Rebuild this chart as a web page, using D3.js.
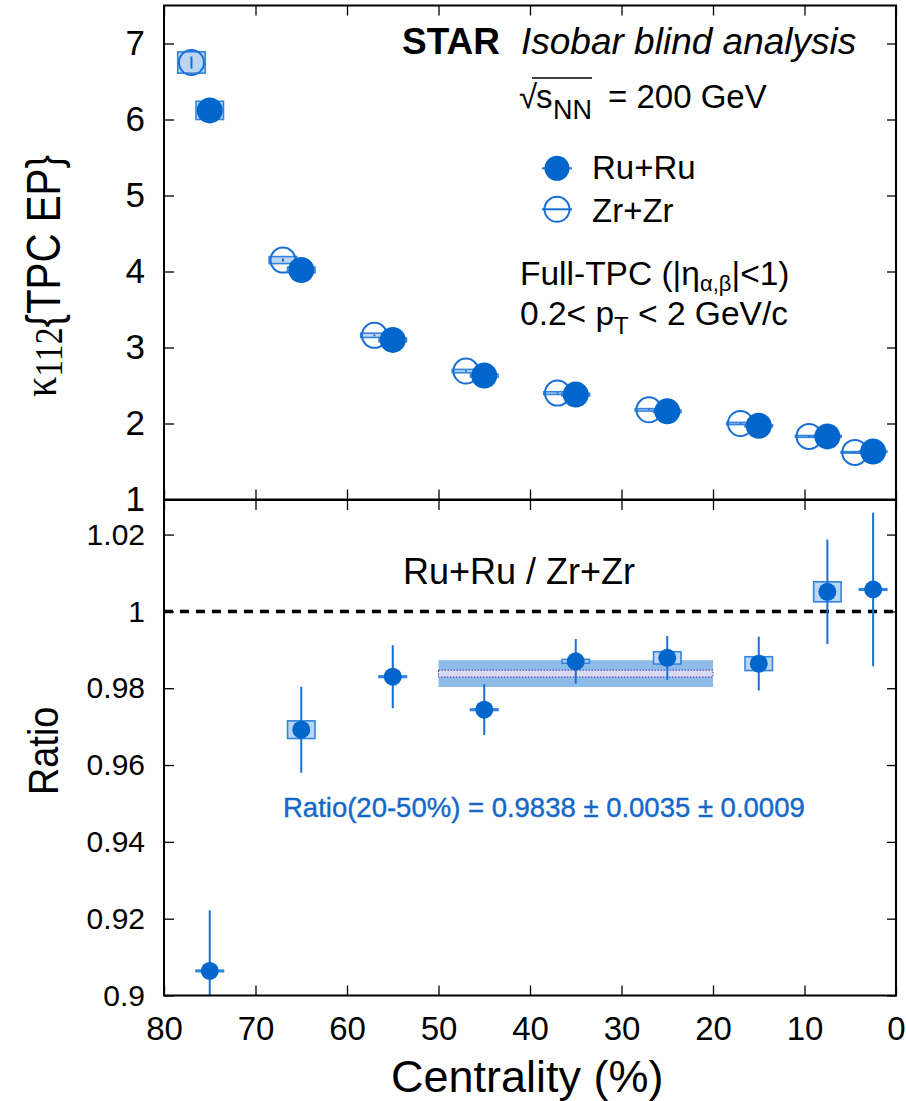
<!DOCTYPE html>
<html>
<head>
<meta charset="utf-8">
<script src="https://cdn.jsdelivr.net/npm/d3@7.9.0/dist/d3.min.js"></script>
<style>
  body { margin: 0; background: #fff; }
  svg { display: block; font-family: "Liberation Sans", Arial, Helvetica, sans-serif; }
</style>
</head>
<body>
<svg id="chart" width="906" height="1101"></svg>
<script>
// kappa_112 vs centrality
const ruCent = [75, 65, 55, 45, 35, 25, 15, 7.5, 2.5];
const ruKappa = [6.12, 4.02, 3.10, 2.63, 2.38, 2.16, 1.97, 1.83, 1.63];
const ruStat = [0.07, 0.02, 0.012, 0.01, 0.008, 0.007, 0.006, 0.005, 0.005];
const ruSys = [0.12, 0.037, 0.024, 0.02, 0.018, 0.016, 0.014, 0.012, 0.01];

const zrCent = [77, 67, 57, 47, 37, 27, 17, 9.5, 4.5];
const zrKappa = [6.75, 4.15, 3.16, 2.69, 2.40, 2.18, 2.00, 1.83, 1.62];
const zrStat = [0.08, 0.02, 0.012, 0.01, 0.008, 0.007, 0.006, 0.005, 0.005];
const zrSys = [0.14, 0.046, 0.028, 0.022, 0.018, 0.016, 0.014, 0.012, 0.01];

// Ru+Ru / Zr+Zr ratio
const ratioCent = [75, 65, 55, 45, 35, 25, 15, 7.5, 2.5];
const ratioVal = [0.9064, 0.9692, 0.9830, 0.9744, 0.9870, 0.9879, 0.9864, 1.0051, 1.0057];
const ratioStat = [0.0158, 0.0112, 0.0082, 0.0066, 0.0058, 0.0057, 0.0070, 0.0136, 0.0200];
const ratioSys = [0.0002, 0.0023, 0.0002, 0.0002, 0.0005, 0.0016, 0.0018, 0.0026, 0.0002];

// 20-50% average
const bandRange = [50, 20];
const bandVal = 0.9838, bandStat = 0.0035, bandSys = 0.0009;

const xTicks = [80, 70, 60, 50, 40, 30, 20, 10, 0];
const topTicks = [1, 2, 3, 4, 5, 6, 7];
const ratioTicks = [0.9, 0.92, 0.94, 0.96, 0.98, 1, 1.02];

const blue = '#0066cc';
const barBlue = '#1a6fd6';
const boxFill = '#bcd6f2';
const boxStroke = '#3384de';
const halfBin = 1.5;

const svg = d3.select('#chart');
const x = d3.scaleLinear().domain([80, 0]).range([164, 896]);
const yTop = d3.scaleLinear().domain([1, 7.5]).range([499.5, 5.5]);
const yRat = d3.scaleLinear().domain([0.9, 1.029]).range([995.5, 500]);

const defs = svg.append('defs');
defs.append('clipPath').attr('id', 'clipTop').append('rect')
  .attr('x', 164).attr('y', 5.5).attr('width', 732).attr('height', 494);
defs.append('clipPath').attr('id', 'clipRat').append('rect')
  .attr('x', 164).attr('y', 500).attr('width', 732).attr('height', 495.5);

function cleanAxis(g) {
  g.attr('font-size', null).attr('font-family', null);
  g.select('.domain').remove();
  g.selectAll('.tick line').attr('stroke-width', 1.3);
}

function drawFrame(y, yTicks, yFmt, yFont, withXLabels) {
  const [yb, yt] = y.range();
  const g = svg.append('g');
  g.append('g').attr('transform', `translate(164,0)`)
    .call(d3.axisLeft(y).tickValues(yTicks).tickSizeInner(-10).tickSizeOuter(0).tickPadding(19).tickFormat(yFmt))
    .call(cleanAxis)
    .selectAll('text').style('font-size', yFont + 'px');
  g.append('g').attr('transform', `translate(896,0)`)
    .call(d3.axisRight(y).tickValues(yTicks).tickSizeInner(-9).tickSizeOuter(0).tickFormat(''))
    .call(cleanAxis);
  g.append('g').attr('transform', `translate(0,${yt})`)
    .call(d3.axisTop(x).tickValues(xTicks).tickSizeInner(-10).tickSizeOuter(0).tickFormat(''))
    .call(cleanAxis);
  const bottom = g.append('g').attr('transform', `translate(0,${yb})`)
    .call(d3.axisBottom(x).tickValues(xTicks).tickSizeInner(-10).tickSizeOuter(0).tickPadding(21)
      .tickFormat(withXLabels ? d3.format('d') : ''))
    .call(cleanAxis);
  bottom.selectAll('text').style('font-size', '33px');
  g.append('rect')
    .attr('x', 164).attr('y', yt).attr('width', 732).attr('height', yb - yt)
    .attr('fill', 'none').attr('stroke', '#000').attr('stroke-width', 2);
}

// systematic box, stat error bar, marker
function drawPoints(g, xs, ys, stat, sys, y, opts) {
  const idx = d3.range(xs.length);
  g.append('g').selectAll('rect').data(idx).join('rect')
    .attr('x', i => x(xs[i] + halfBin))
    .attr('width', i => x(xs[i] - halfBin) - x(xs[i] + halfBin))
    .attr('y', i => y(ys[i] + sys[i]))
    .attr('height', i => y(ys[i] - sys[i]) - y(ys[i] + sys[i]))
    .attr('fill', boxFill).attr('stroke', boxStroke).attr('stroke-width', 1.6);
  g.append('g').attr('stroke', barBlue).attr('stroke-width', 2)
    .selectAll('line').data(idx).join('line')
    .attr('x1', i => x(xs[i])).attr('x2', i => x(xs[i]))
    .attr('y1', i => y(ys[i] - stat[i])).attr('y2', i => y(ys[i] + stat[i]));
  g.append('g').selectAll('circle').data(idx).join('circle')
    .attr('cx', i => x(xs[i])).attr('cy', i => y(ys[i])).attr('r', opts.r)
    .attr('fill', opts.open ? 'none' : blue)
    .attr('stroke', opts.open ? barBlue : 'none')
    .attr('stroke-width', 2);
}

// ---------- top panel ----------
const topPanel = svg.append('g').attr('clip-path', 'url(#clipTop)');
drawPoints(topPanel, zrCent, zrKappa, zrStat, zrSys, yTop, { r: 12.5, open: true });
drawPoints(topPanel, ruCent, ruKappa, ruStat, ruSys, yTop, { r: 13, open: false });
drawFrame(yTop, topTicks, d3.format('d'), 35, false);

// ---------- ratio panel ----------
const ratPanel = svg.append('g').attr('clip-path', 'url(#clipRat)');
ratPanel.append('rect')
  .attr('x', x(bandRange[0])).attr('width', x(bandRange[1]) - x(bandRange[0]))
  .attr('y', yRat(bandVal + bandStat)).attr('height', yRat(bandVal - bandStat) - yRat(bandVal + bandStat))
  .attr('fill', '#8fbbe9');
ratPanel.append('rect')
  .attr('x', x(bandRange[0])).attr('width', x(bandRange[1]) - x(bandRange[0]))
  .attr('y', yRat(bandVal + bandSys)).attr('height', yRat(bandVal - bandSys) - yRat(bandVal + bandSys))
  .attr('fill', '#dadaf0').attr('stroke', '#3a3ab0').attr('stroke-width', 1)
  .attr('stroke-dasharray', '1.5,1.5');
ratPanel.append('line')
  .attr('x1', x(80)).attr('x2', x(0)).attr('y1', yRat(1)).attr('y2', yRat(1))
  .attr('stroke', '#000').attr('stroke-width', 3.5).attr('stroke-dasharray', '9,7');
drawPoints(ratPanel, ratioCent, ratioVal, ratioStat, ratioSys, yRat, { r: 9, open: false });
drawFrame(yRat, ratioTicks, d => String(+d.toFixed(2)), 30, true);

// ---------- texts ----------
svg.append('text').attr('x', 402).attr('y', 54.3)
  .style('font-size', '37px').style('font-weight', 'bold').text('STAR');
svg.append('text').attr('x', 521).attr('y', 54.3)
  .style('font-size', '37px').style('font-style', 'italic').text('Isobar blind analysis');

svg.append('text').attr('x', 519).attr('y', 108.3).style('font-size', '33px').text('√');
svg.append('line').attr('x1', 532).attr('x2', 592).attr('y1', 78).attr('y2', 78)
  .attr('stroke', '#000').attr('stroke-width', 1.5);
svg.append('text').attr('x', 536).attr('y', 108.3).style('font-size', '33px').text('s');
svg.append('text').attr('x', 553).attr('y', 118.5).style('font-size', '27px').text('NN');
svg.append('text').attr('x', 608).attr('y', 108.3).style('font-size', '33px').text('= 200 GeV');

// legend
const legend = svg.append('g');
legend.append('line').attr('x1', 542).attr('x2', 572).attr('y1', 168.3).attr('y2', 168.3)
  .attr('stroke', barBlue).attr('stroke-width', 2);
legend.append('circle').attr('cx', 557).attr('cy', 168.3).attr('r', 12.5).attr('fill', blue);
legend.append('text').attr('x', 592).attr('y', 179.3).style('font-size', '33px').text('Ru+Ru');
legend.append('line').attr('x1', 542).attr('x2', 572).attr('y1', 209.3).attr('y2', 209.3)
  .attr('stroke', barBlue).attr('stroke-width', 2);
legend.append('circle').attr('cx', 557).attr('cy', 209.3).attr('r', 12.5)
  .attr('fill', 'none').attr('stroke', barBlue).attr('stroke-width', 2);
legend.append('text').attr('x', 592).attr('y', 221.7).style('font-size', '33px').text('Zr+Zr');

const t1 = svg.append('text').attr('x', 520).attr('y', 284.5).style('font-size', '33.5px');
t1.append('tspan').text('Full-TPC (|η');
t1.append('tspan').attr('dy', 6).style('font-size', '22px').text('α,β');
t1.append('tspan').attr('dy', -6).text('|<1)');

const t2 = svg.append('text').attr('x', 520).attr('y', 324.5).style('font-size', '33.5px');
t2.append('tspan').text('0.2< p');
t2.append('tspan').attr('dy', 9).style('font-size', '24px').text('T');
t2.append('tspan').attr('dy', -9).text(' < 2 GeV/c');

svg.append('text').attr('x', 403).attr('y', 584).style('font-size', '36px').text('Ru+Ru / Zr+Zr');
svg.append('text').attr('x', 283).attr('y', 817).style('font-size', '27.5px')
  .attr('fill', '#1468c8').attr('stroke', '#1468c8').attr('stroke-width', 0.4)
  .text('Ratio(20-50%) = 0.9838 ± 0.0035 ± 0.0009');

// axis titles
const yl = svg.append('text').attr('transform', 'translate(60,397) rotate(-90) scale(0.84,1)')
  .style('font-size', '48px');
yl.append('tspan').attr('dy', -4).style('font-family', '"Liberation Serif", "Times New Roman", serif').text('κ');
yl.append('tspan').attr('dy', 6).style('font-family', '"Liberation Serif", "Times New Roman", serif')
  .style('font-size', '40px').text('112');
yl.append('tspan').attr('dy', -2).text('{TPC EP}');

svg.append('text').attr('transform', 'translate(58,795) rotate(-90) scale(0.88,1)')
  .style('font-size', '43px').text('Ratio');

svg.append('text').attr('x', 391).attr('y', 1092).style('font-size', '45px').text('Centrality (%)');
</script>
</body>
</html>
